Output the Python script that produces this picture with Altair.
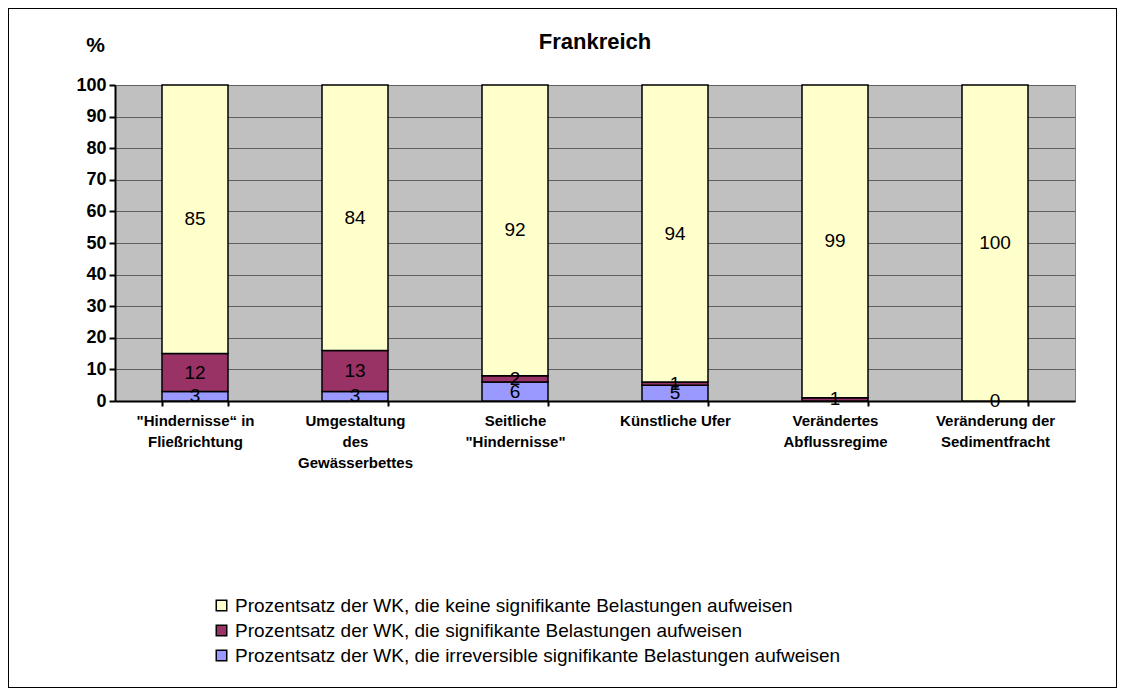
import altair as alt
import pandas as pd

categories = [
    '"Hindernisse\u201c in|Fließrichtung',
    'Umgestaltung|des|Gewässerbettes',
    'Seitliche|"Hindernisse"',
    'Künstliche Ufer',
    'Verändertes|Abflussregime',
    'Veränderung der|Sedimentfracht',
]
series_names = [
    "Prozentsatz der WK, die keine signifikante Belastungen aufweisen",
    "Prozentsatz der WK, die signifikante Belastungen aufweisen",
    "Prozentsatz der WK, die irreversible signifikante Belastungen aufweisen",
]
irreversible = [3, 3, 6, 5, 0, 0]
significant = [12, 13, 2, 1, 1, 0]
none_sig = [85, 84, 92, 94, 99, 100]
colors = ["#FFFFCC", "#993366", "#9999FF"]
y_ticks = [0, 10, 20, 30, 40, 50, 60, 70, 80, 90, 100]

rows = []
for i, c in enumerate(categories):
    base = 0
    for s_idx, vals in [(2, irreversible), (1, significant), (0, none_sig)]:
        v = vals[i]
        show = not (s_idx == 2 and v == 0)
        rows.append({
            "cat": c, "series": series_names[s_idx], "order": 2 - s_idx,
            "y0": base, "y1": base + v, "mid": base + v / 2,
            "label": str(v) if show else "",
        })
        base += v
df = pd.DataFrame(rows)

x_scale = alt.Scale(paddingInner=0.5875, paddingOuter=0.29375)
y_scale = alt.Scale(domain=[0, 100], nice=False)

x_axis = alt.Axis(labelExpr="split(datum.label, '|')", labelAngle=0,
                  labelFont="Liberation Sans", labelFontWeight="bold",
                  labelFontSize=15, labelLineHeight=21, labelColor="black",
                  labelPadding=7, labelBaseline="top", labelLimit=200,
                  domainColor="black", domainWidth=2,
                  tickColor="black", tickWidth=2, tickSize=5,
                  tickBand="extent", grid=False)
y_axis = alt.Axis(values=y_ticks, title="%", labelOverlap=False,
                  titleAngle=0, titleX=-20, titleY=-30,
                  titleFont="Liberation Sans", titleFontSize=21,
                  titleFontWeight="bold", titleColor="black",
                  labelFont="Liberation Sans", labelFontWeight="bold",
                  labelFontSize=18, labelColor="black", labelPadding=3,
                  domainColor="black", domainWidth=2,
                  tickColor="black", tickWidth=2, tickSize=6,
                  gridColor="#606060", gridWidth=1)

bars = alt.Chart(df).mark_bar(stroke="black", strokeWidth=1.5).encode(
    x=alt.X("cat:N", sort=categories, title=None, scale=x_scale, axis=x_axis),
    y=alt.Y("y0:Q", scale=y_scale, axis=y_axis),
    y2="y1:Q",
    color=alt.Color("series:N", sort=series_names,
                    scale=alt.Scale(domain=series_names, range=colors),
                    legend=alt.Legend(title=None, orient="none", legendX=97, legendY=511,
                                      symbolType="square", symbolSize=110,
                                      symbolStrokeColor="black", symbolStrokeWidth=1.5,
                                      labelFont="Liberation Sans", labelFontSize=19,
                                      labelColor="black", rowPadding=5, labelLimit=900)),
    order=alt.Order("order:Q"),
)

text = alt.Chart(df).mark_text(font="Liberation Sans", fontSize=19, color="black",
                               baseline="middle").encode(
    x=alt.X("cat:N", sort=categories, title=None, scale=x_scale, axis=x_axis),
    y=alt.Y("mid:Q", scale=y_scale, axis=y_axis),
    text="label:N",
)

frame = alt.Chart(df).mark_rect(fill=None, stroke="black", strokeWidth=1).encode(
    x=alt.value(-107), x2=alt.value(1002), y=alt.value(-77), y2=alt.value(603),
)

chart = alt.layer(bars, text, frame).properties(
    width=960, height=316,
    background="white",
    title=alt.TitleParams("Frankreich", font="Liberation Sans", fontSize=22,
                          fontWeight="bold", color="black", anchor="middle",
                          offset=0, dy=46),
    autosize=alt.AutoSizeParams(type="none"),
    padding={"left": 107, "top": 77, "right": 42, "bottom": 287},
).configure_view(fill="#C0C0C0", stroke="#808080", strokeWidth=1)

chart.save("out.html", embed_options={"renderer": "svg", "actions": False})
